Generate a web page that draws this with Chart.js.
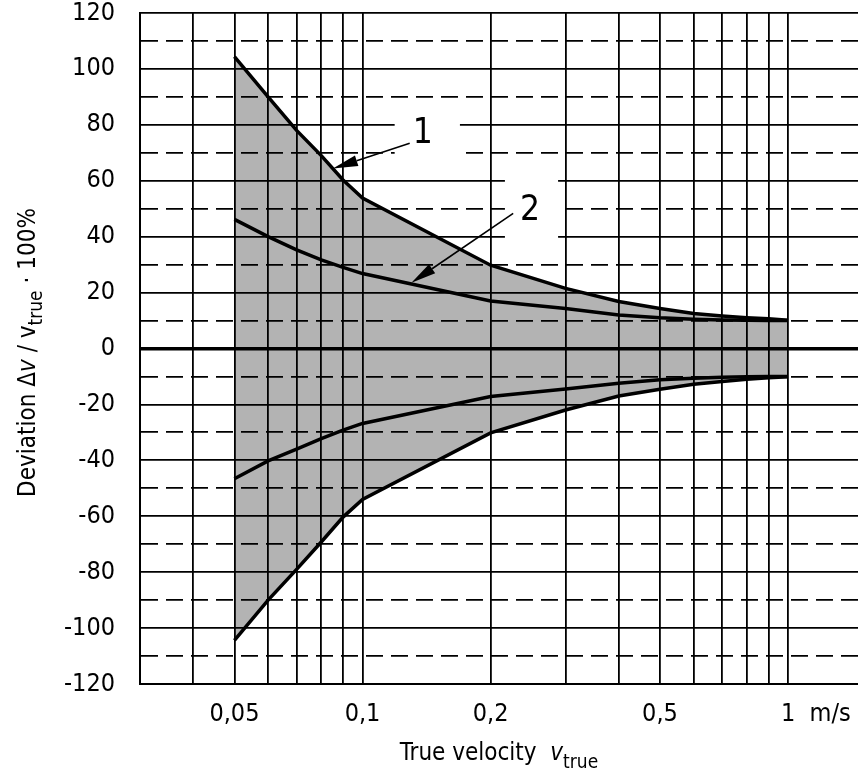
<!DOCTYPE html>
<html>
<head>
<meta charset="utf-8">
<script src="https://cdn.jsdelivr.net/npm/chart.js@4.4.0/dist/chart.umd.min.js"></script>
<style>
  html, body { margin: 0; padding: 0; background: #fff; }
  canvas { display: block; }
</style>
</head>
<body>
<canvas id="c" width="858" height="782"></canvas>
<script>
// ---- data ----
const VELOCITY    = [0.05, 0.06, 0.07, 0.08, 0.09, 0.1, 0.2, 0.3, 0.4, 0.5, 0.6, 0.7, 0.8, 0.9, 1.0];
const OUTER_UPPER = [104.4, 90, 78, 69, 60.3, 53.8, 29.8, 21.5, 16.8, 14.3, 12.5, 11.6, 11, 10.6, 10.1];
const INNER_UPPER = [46.2, 40, 35.3, 31.7, 29, 26.8, 17, 14.3, 12, 11, 10.5, 10.2, 10.1, 10, 10];
const INNER_LOWER = [-46.6, -40.2, -36, -32.2, -29.2, -26.8, -17.2, -14.5, -12.4, -11.2, -10.6, -10.3, -10.1, -10, -10];
const OUTER_LOWER = [-104.4, -90, -79, -69.2, -60.3, -54, -30.2, -22, -17, -14.6, -12.8, -11.8, -11, -10.5, -10.1];

const X_TICKS        = [0.04, 0.05, 0.06, 0.07, 0.08, 0.09, 0.1, 0.2, 0.3, 0.4, 0.5, 0.6, 0.7, 0.8, 0.9, 1];
const X_LABEL_VALUES = [0.05, 0.1, 0.2, 0.5, 1];
const X_LABEL_TEXT   = ['0,05', '0,1', '0,2', '0,5', '1'];
const X_UNIT = 'm/s';
const X_MIN = 0.03, X_MAX = 1.46;
const Y_MIN = -120, Y_MAX = 120, Y_STEP = 10, Y_LABEL_STEP = 20;

const CALLOUT_TEXT = ['1', '2'];
const CALLOUT_TEXT_AT = [[0.1386, 76.6], [0.2475, 49.2]];
const CALLOUT_TAIL = [[0.1291, 73.4], [0.226, 48.3]];
const CALLOUT_TIP  = [[0.0852, 64.4], [0.1303, 23.5]];
const CALLOUT_MASK = [[0.119, 0.1694, 65, 85], [0.2161, 0.2881, 35, 65]];

// ---- styling ----
const FONT = "'Liberation Sans Narrow', 'DejaVu Sans Condensed', 'Liberation Sans', sans-serif";
const TICK_SIZE = 25;
const X_TICK_PAD = 15;
Chart.defaults.font.family = FONT;
Chart.defaults.color = '#000';

const pts = ys => VELOCITY.map((v, i) => ({ x: v, y: ys[i] }));
const lineStyle = { borderColor: '#000', borderWidth: 3.5, pointRadius: 0, tension: 0, fill: false };

function drawPieces(ctx, pieces, size, subSize, subDrop) {
  let total = 0;
  const widths = pieces.map(p => {
    ctx.font = (p.italic ? 'italic ' : '') + (p.sub ? subSize : size) + 'px ' + FONT;
    const w = ctx.measureText(p.t).width;
    total += w;
    return w;
  });
  let x = -total / 2;
  pieces.forEach((p, i) => {
    ctx.font = (p.italic ? 'italic ' : '') + (p.sub ? subSize : size) + 'px ' + FONT;
    ctx.fillText(p.t, x, p.sub ? subDrop : 0);
    x += widths[i];
  });
}

const extras = {
  id: 'extras',
  afterDraw(chart) {
    const { ctx } = chart;
    const xs = chart.scales.x, ys = chart.scales.y;
    ctx.save();
    // white boxes behind call-out numbers
    ctx.fillStyle = '#fff';
    CALLOUT_MASK.forEach(m => {
      const x0 = xs.getPixelForValue(m[0]), x1 = xs.getPixelForValue(m[1]);
      const y0 = ys.getPixelForValue(m[3]), y1 = ys.getPixelForValue(m[2]);
      ctx.fillRect(x0, y0, x1 - x0, y1 - y0);
    });
    // leader arrows
    ctx.strokeStyle = '#000';
    ctx.fillStyle = '#000';
    ctx.lineWidth = 1.6;
    CALLOUT_TAIL.forEach((t, i) => {
      const tx = xs.getPixelForValue(t[0]), ty = ys.getPixelForValue(t[1]);
      const px = xs.getPixelForValue(CALLOUT_TIP[i][0]), py = ys.getPixelForValue(CALLOUT_TIP[i][1]);
      const a = Math.atan2(py - ty, px - tx);
      const L = 25, H = 5.5;
      const bx = px - L * Math.cos(a), by = py - L * Math.sin(a);
      ctx.beginPath(); ctx.moveTo(tx, ty); ctx.lineTo(bx, by); ctx.stroke();
      ctx.beginPath();
      ctx.moveTo(px, py);
      ctx.lineTo(bx + H * Math.sin(a), by - H * Math.cos(a));
      ctx.lineTo(bx - H * Math.sin(a), by + H * Math.cos(a));
      ctx.closePath(); ctx.fill();
    });
    // call-out numbers
    ctx.font = '35px ' + FONT;
    ctx.textAlign = 'center';
    ctx.textBaseline = 'middle';
    CALLOUT_TEXT.forEach((s, i) => {
      ctx.fillText(s, xs.getPixelForValue(CALLOUT_TEXT_AT[i][0]), ys.getPixelForValue(CALLOUT_TEXT_AT[i][1]));
    });
    // unit after the last tick label
    ctx.font = TICK_SIZE + 'px ' + FONT;
    ctx.textAlign = 'left';
    const oneW = ctx.measureText('1').width;
    const ux = xs.getPixelForValue(1) + oneW / 2;
    const uy = xs.top + X_TICK_PAD + TICK_SIZE * 1.2 / 2;
    ctx.fillText('\u00a0\u00a0' + X_UNIT, ux, uy);
    // axis titles
    ctx.textAlign = 'left';
    ctx.textBaseline = 'alphabetic';
    ctx.save();
    ctx.translate((chart.chartArea.left + chart.chartArea.right) / 2, 760);
    drawPieces(ctx, [
      { t: 'True velocity \u00a0' },
      { t: 'v', italic: true },
      { t: 'true', sub: true }
    ], 24, 19, 8);
    ctx.restore();
    ctx.save();
    ctx.translate(35, (chart.chartArea.top + chart.chartArea.bottom) / 2 + 4);
    ctx.rotate(-Math.PI / 2);
    drawPieces(ctx, [
      { t: 'Deviation \u0394' },
      { t: 'v', italic: true },
      { t: ' / v' },
      { t: 'true', sub: true },
      { t: ' \u00b7 100%' }
    ], 24, 19, 7);
    ctx.restore();
    ctx.restore();
  }
};

new Chart(document.getElementById('c'), {
  type: 'line',
  data: {
    datasets: [
      { label: 'Curve 1 (+)', data: pts(OUTER_UPPER), ...lineStyle, fill: 3, backgroundColor: '#b3b3b3' },
      { label: 'Curve 2 (+)', data: pts(INNER_UPPER), ...lineStyle },
      { label: 'Curve 2 (-)', data: pts(INNER_LOWER), ...lineStyle },
      { label: 'Curve 1 (-)', data: pts(OUTER_LOWER), ...lineStyle }
    ]
  },
  options: {
    responsive: false,
    animation: false,
    events: [],
    layout: { padding: { top: 13, left: 0, right: 0, bottom: 0 } },
    plugins: {
      legend: { display: false },
      tooltip: { enabled: false },
      filler: { drawTime: 'beforeDatasetsDraw' }
    },
    scales: {
      x: {
        type: 'logarithmic',
        min: X_MIN, max: X_MAX,
        afterBuildTicks: s => { s.ticks = X_TICKS.map(v => ({ value: v })); },
        afterFit: s => { s.height = 98; s.paddingLeft = 0; s.paddingRight = 0; },
        ticks: {
          autoSkip: false, maxRotation: 0, minRotation: 0,
          padding: X_TICK_PAD, color: '#000', font: { size: TICK_SIZE },
          callback: v => {
            const i = X_LABEL_VALUES.findIndex(k => Math.abs(k - v) < 1e-9);
            return i >= 0 ? X_LABEL_TEXT[i] : '';
          }
        },
        grid: { color: '#000', lineWidth: 1.8, drawTicks: false, z: 1 },
        border: { color: '#000', width: 2, z: 1 }
      },
      y: {
        type: 'linear',
        min: Y_MIN, max: Y_MAX,
        afterFit: s => { s.width = 140; s.paddingTop = 0; s.paddingBottom = 0; },
        ticks: {
          stepSize: Y_STEP, autoSkip: false, padding: 25, color: '#000', font: { size: TICK_SIZE },
          callback: v => (v % Y_LABEL_STEP === 0 ? String(v) : '')
        },
        grid: {
          color: '#000',
          lineWidth: c => (c.tick && c.tick.value === 0 ? 3.6 : 1.8),
          drawTicks: false, z: 1
        },
        border: {
          color: '#000', width: 2, z: 1,
          dash: c => (c.tick && Math.abs(c.tick.value) % Y_LABEL_STEP !== 0 ? [17, 8] : [])
        }
      }
    }
  },
  plugins: [extras]
});
</script>
</body>
</html>
